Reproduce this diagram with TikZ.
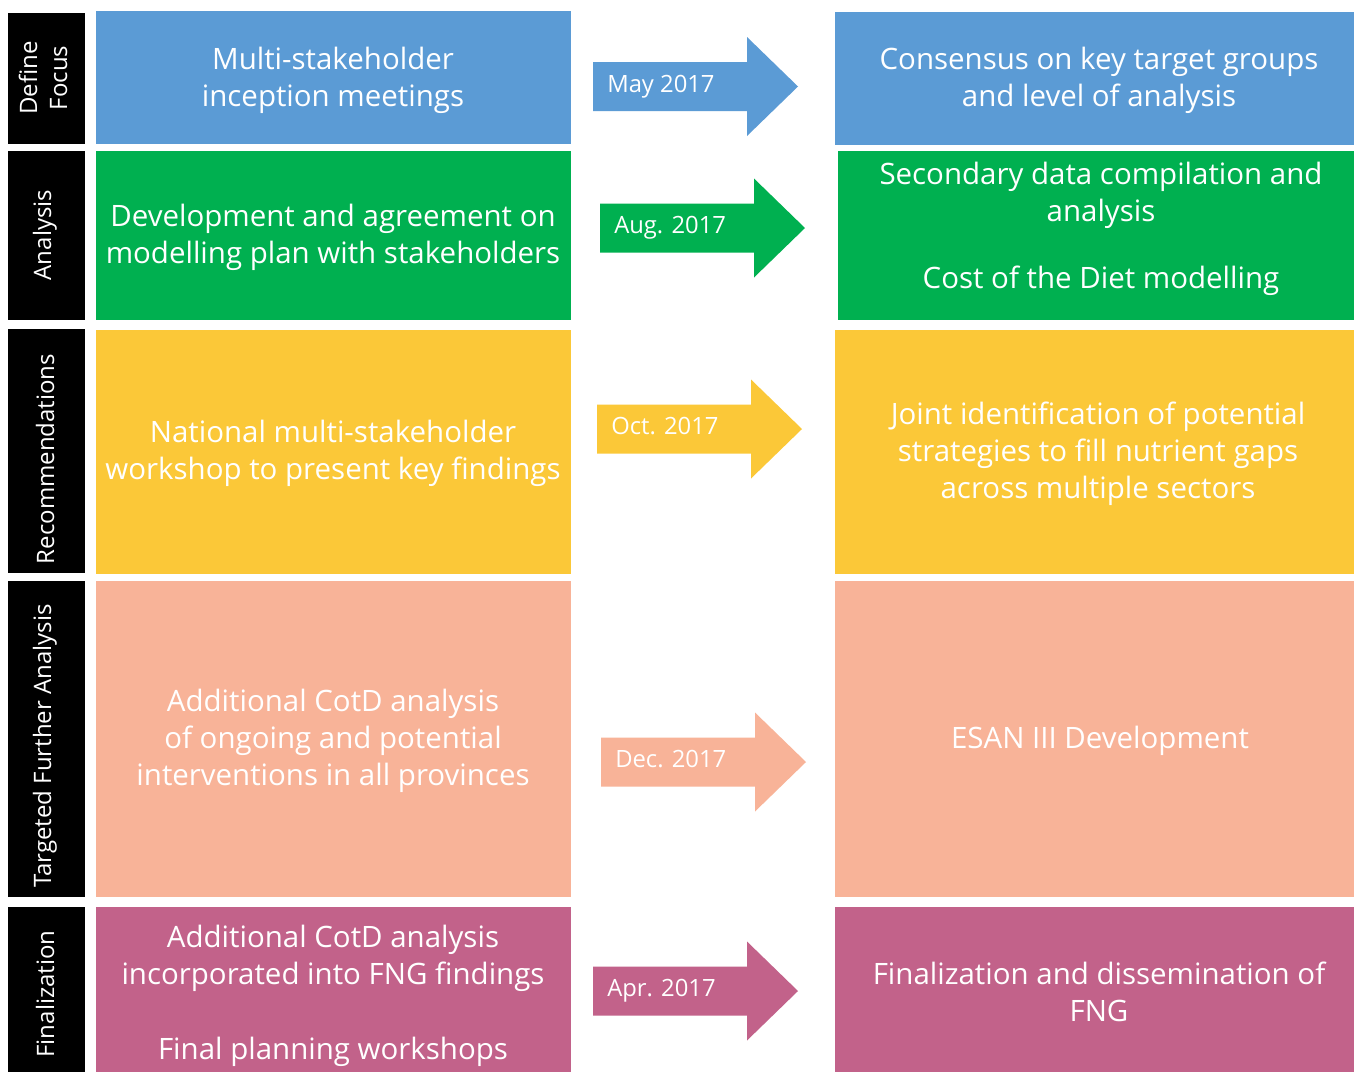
\documentclass[tikz,border=0pt]{standalone}
\usepackage{fontspec}
\setmainfont{Open Sans}
\usetikzlibrary{fit}
\definecolor{cBlue}{HTML}{5B9BD5}
\definecolor{cGreen}{HTML}{00B050}
\definecolor{cYellow}{HTML}{FBC838}
\definecolor{cSalmon}{HTML}{F8B398}
\definecolor{cPurple}{HTML}{C2628A}
\newcommand\mainfs{\fontsize{22.1}{27.75}\selectfont}
\newcommand\sidefs{\fontsize{18}{22.5}\selectfont}
\newcommand\datefs{\fontsize{17.85}{21}\selectfont}
\newcommand\datearrow[5]{%
  \fill[#4] (#2,#3-24.5) -- (#2+154,#3-24.5) -- (#2+154,#3-49.5) -- (#2+205,#3)
     -- (#2+154,#3+49.5) -- (#2+154,#3+24.5) -- (#2,#3+24.5) -- cycle;
  \node[datelbl, anchor=base west] (#1) at (#2+14,#3+5.5) {#5};
}
\begin{document}
\begin{tikzpicture}[x=0.75pt,y=-0.75pt,
  box/.style={inner sep=0pt, outer sep=0pt, draw=none},
  txt/.style={inner sep=0pt, text=white, align=center, font=\mainfs},
  side/.style={inner sep=0pt, text=white, align=center, font=\sidefs, rotate=90},
  datelbl/.style={inner sep=0pt, text=white, font=\datefs}]
\clip (0,0) rectangle (1354,1072);
\fill[white] (0,0) rectangle (1354,1072);
% side labels background
\node[box, fill=black, fit={(8,13) (85,144)}] (s1) {};
\node[box, fill=black, fit={(8,151) (85,320)}] (s2) {};
\node[box, fill=black, fit={(8,329) (85,573)}] (s3) {};
\node[box, fill=black, fit={(8,581) (85,897)}] (s4) {};
\node[box, fill=black, fit={(8,907) (85,1072)}] (s5) {};
\node[side] (l1) at (43,78) {Define\\Focus};
\node[side] (l2) at (45,235) {Analysis};
\node[side] (l3) at (45,459) {Recommendations};
\node[side] (l4) at (45,746) {Targeted Further Analysis};
\node[side] (l5) at (45,994) {Finalization};
% left boxes
\node[box, fill=cBlue, fit={(96,11) (571,144)}] (b1l) {};
\node[box, fill=cGreen, fit={(96,151) (571,320)}] (b2l) {};
\node[box, fill=cYellow, fit={(96,330) (571,574)}] (b3l) {};
\node[box, fill=cSalmon, fit={(96,581) (571,897)}] (b4l) {};
\node[box, fill=cPurple, fit={(96,907) (571,1072)}] (b5l) {};
% right boxes
\node[box, fill=cBlue, fit={(835,12) (1363,145)}] (b1r) {};
\node[box, fill=cGreen, fit={(838,151) (1363,320)}] (b2r) {};
\node[box, fill=cYellow, fit={(835,330) (1363,574)}] (b3r) {};
\node[box, fill=cSalmon, fit={(835,581) (1363,897)}] (b4r) {};
\node[box, fill=cPurple, fit={(835,907) (1363,1072)}] (b5r) {};
% texts
\node[txt] (t1l) at (333,80) {Multi-stakeholder\\inception meetings};
\node[txt] (t1r) at (1099,80) {Consensus on key target groups\\and level of analysis};
\node[txt] (t2l) at (333,237) {Development and agreement on\\modelling plan with stakeholders};
\node[txt] (t2r) at (1101,229) {Secondary data compilation and\\analysis\\[22.5pt]Cost of the Diet modelling};
\node[txt] (t3l) at (333,453) {National multi-stakeholder\\workshop to present key findings};
\node[txt] (t3r) at (1098,454) {Joint identification of potential\\strategies to fill nutrient gaps\\across multiple sectors};
\node[txt] (t4l) at (333,741) {Additional CotD analysis\\of ongoing and potential\\interventions in all provinces};
\node[txt] (t4r) at (1100,741) {ESAN III Development};
\node[txt] (t5l) at (333,996) {Additional CotD analysis\\incorporated into FNG findings\\[28.5pt]Final planning workshops};
\node[txt] (t5r) at (1099,992) {Finalization and dissemination of\\FNG};
% arrows
\datearrow{d1}{593}{86.5}{cBlue}{May 2017}
\datearrow{d2}{600}{228}{cGreen}{Aug. 2017}
\datearrow{d3}{597}{429}{cYellow}{Oct. 2017}
\datearrow{d4}{601}{762}{cSalmon}{Dec. 2017}
\datearrow{d5}{593}{991}{cPurple}{Apr. 2017}
\end{tikzpicture}
\end{document}
